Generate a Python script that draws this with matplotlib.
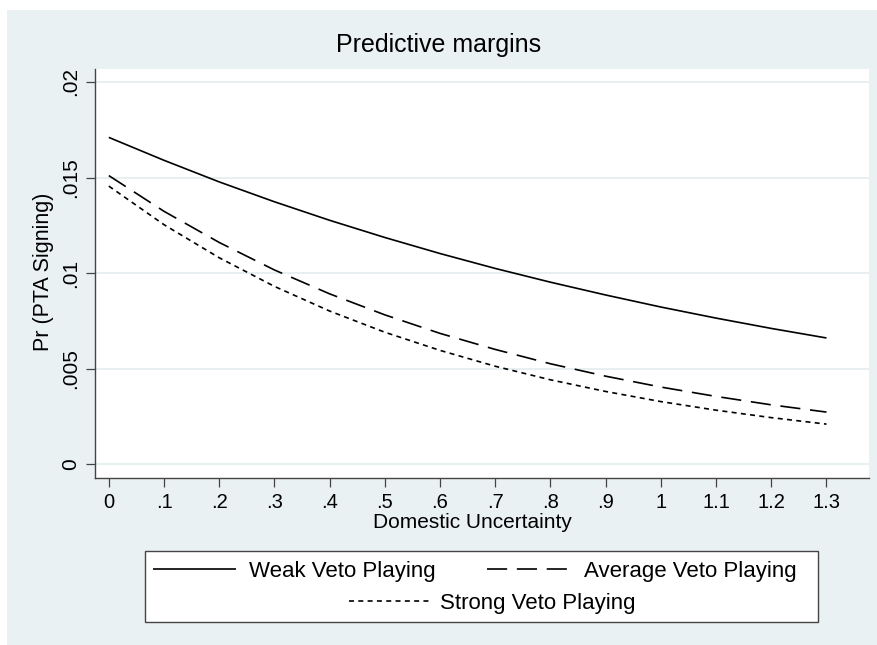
import matplotlib
matplotlib.use("Agg")
import matplotlib.pyplot as plt
from matplotlib.patches import Rectangle

plt.rcParams['font.family'] = ['Liberation Sans', 'DejaVu Sans']
plt.rcParams['lines.scale_dashes'] = False

# Data
x_vals = [0, 0.1, 0.2, 0.3, 0.4, 0.5, 0.6, 0.7, 0.8, 0.9, 1.0, 1.1, 1.2, 1.3]
weak = [0.0171, 0.0159, 0.01477, 0.01373, 0.01276, 0.01186, 0.01102, 0.01024,
        0.00952, 0.00885, 0.00822, 0.00764, 0.0071, 0.0066]
average = [0.0151, 0.01323, 0.0116, 0.01016, 0.00891, 0.00781, 0.00684, 0.006,
           0.00525, 0.0046, 0.00403, 0.00354, 0.0031, 0.00272]
strong = [0.01455, 0.01253, 0.0108, 0.0093, 0.00801, 0.0069, 0.00595, 0.00512,
          0.00441, 0.0038, 0.00327, 0.00282, 0.00243, 0.00209]
series_labels = ["Weak Veto Playing", "Average Veto Playing", "Strong Veto Playing"]
x_ticks = [0, 0.1, 0.2, 0.3, 0.4, 0.5, 0.6, 0.7, 0.8, 0.9, 1.0, 1.1, 1.2, 1.3]
x_ticklabels = ["0", ".1", ".2", ".3", ".4", ".5", ".6", ".7", ".8", ".9", "1", "1.1", "1.2", "1.3"]
y_ticks = [0, 0.005, 0.01, 0.015, 0.02]
y_ticklabels = ["0", ".005", ".01", ".015", ".02"]

BG = '#EAF1F3'
W, H = 877, 645
fig = plt.figure(figsize=(W / 100, H / 100), dpi=100)
fig.patch.set_facecolor('white')
bg = Rectangle((7 / W, 0), 1 - 7 / W, 1 - 10 / H, transform=fig.transFigure,
               facecolor=BG, edgecolor='none', zorder=-10)
fig.add_artist(bg)

ax = fig.add_axes([95 / W, 1 - 478 / H, (869 - 95) / W, (478 - 69) / H])
ax.set_zorder(1)
ax.set_facecolor('white')

lw = 1.2
l1, = ax.plot(x_vals, weak, color='black', lw=lw, solid_capstyle='butt')
l2, = ax.plot(x_vals, average, color='black', lw=lw, dashes=(14.5, 7))
l3, = ax.plot(x_vals, strong, color='black', lw=lw, dashes=(3.6, 3.1))

ax.set_xlim(-0.025, 1.377)
ax.set_ylim(-0.00073, 0.02068)
ax.set_xticks(x_ticks)
ax.set_xticklabels(x_ticklabels, fontsize=14.5)
ax.set_yticks(y_ticks)
ax.set_yticklabels(y_ticklabels, fontsize=15, rotation=90, va='center')
ax.grid(axis='y', color='#E6EEF0', lw=1.3)
ax.set_axisbelow(True)
for s in ['top', 'right']:
    ax.spines[s].set_visible(False)
for s in ['left', 'bottom']:
    ax.spines[s].set_color('#444444')
    ax.spines[s].set_linewidth(1.0)
ax.tick_params(axis='both', length=6.5, width=0.9, color='#444444', direction='out')
ax.tick_params(axis='x', pad=4)
ax.tick_params(axis='y', pad=4)

ax.set_xlabel("Domestic Uncertainty", fontsize=15)
ax.set_ylabel("Pr (PTA Signing)", fontsize=15.5)
ax.xaxis.set_label_coords((472 - 95) / 774, (478 - 522) / 409)
ax.yaxis.set_label_coords((44 - 95) / 774, 0.505)
ax.xaxis.label.set_va('center')
ax.yaxis.label.set_va('center')

fig.text(0.5, 1 - 45 / H, "Predictive margins", fontsize=18, ha='center', va='center')

# Legend frame
frame = Rectangle((145 / W, 1 - 622 / H), (818 - 145) / W, (622 - 551) / H,
                  transform=fig.transFigure, facecolor='white',
                  edgecolor='#444444', lw=1.0, zorder=2)
fig.add_artist(frame)
leg1 = fig.legend([l1, l2], series_labels[:2], ncol=2, frameon=False, fontsize=16,
                  loc='center', bbox_to_anchor=(474.5 / W, 1 - 571 / H),
                  handlelength=3.75, handletextpad=0.6, columnspacing=2.3,
                  borderpad=0, borderaxespad=0)
leg2 = fig.legend([l3], series_labels[2:], frameon=False, fontsize=16,
                  loc='center', bbox_to_anchor=(492.5 / W, 1 - 603 / H),
                  handlelength=3.7, handletextpad=0.4, borderpad=0, borderaxespad=0)
leg1.set_zorder(3)
leg2.set_zorder(3)

fig.savefig("out.png", dpi=100)
